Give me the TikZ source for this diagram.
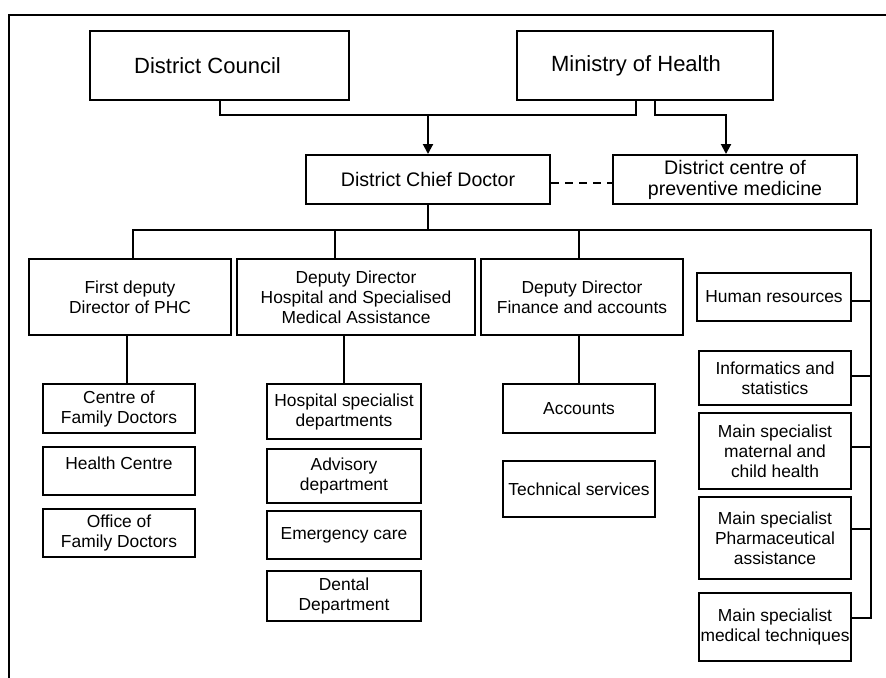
\documentclass[tikz,border=0pt]{standalone}
\usepackage{fontspec}
\setmainfont{Liberation Sans}
\usetikzlibrary{positioning,arrows.meta}
\tikzset{
  unit/.style={draw,line width=1pt,inner sep=1pt,align=center,
    font=\fontsize{8.7}{10}\selectfont},
  mid unit/.style={unit,font=\fontsize{9.8}{10.5}\selectfont},
  top unit/.style={unit,font=\fontsize{11}{13}\selectfont},
  link/.style={line width=1pt},
  down/.style={link,-{Triangle[length=5pt,width=5pt]}}
}

\begin{document}
\begin{tikzpicture}[x=0.5pt,y=-0.5pt]
  \useasboundingbox (0,0) rectangle (886,677);
  \draw[link] (9,690) |- (900,15);
  % top level
  \node (council) [top unit,minimum width=129.5pt,minimum height=34.5pt] at (219.5,65.5) {District Council\hspace{12pt}};
  \node (ministry) [top unit,minimum width=128pt,minimum height=34.5pt] at (645,65.5) {Ministry of Health\hspace{9pt}};
  \node (chief) [mid unit,minimum width=122pt,minimum height=24.5pt] at (428,179.5) {District Chief Doctor};
  \node (prev) [mid unit,minimum width=122pt,minimum height=24.5pt] at (735,179.5) {District centre of\\preventive medicine};
  \coordinate (join) at (0,115);
  \draw[link] (council.south) |- (join -| 636,0) -- ([xshift=-4.5pt]ministry.south);
  \draw[down] (chief.north |- join) -- (chief.north);
  \draw[down] ([xshift=5pt]ministry.south) |- ([xshift=-4.5pt]prev.north |- join) -- ([xshift=-4.5pt]prev.north);
  \draw[link,dash pattern=on 4pt off 3pt] ([yshift=-1.75pt]chief.east) -- ([yshift=-1.75pt]prev.west);
  % directors
  \node (phc) [unit,minimum width=101pt,minimum height=38pt] at (130,297) {First deputy\\Director of PHC};
  \node (hosp) [unit,minimum width=119pt,minimum height=38pt] at (356,297) {Deputy Director\\Hospital and Specialised\\Medical Assistance};
  \node (fin) [unit,minimum width=101pt,minimum height=38pt] at (582,297) {Deputy Director\\Finance and accounts};
  \node (hr) [unit,minimum width=77pt,minimum height=24pt] at (774,297) {Human resources};
  \node (info) [unit,minimum width=76pt,minimum height=27pt] at (775,378) {Informatics and\\statistics};
  \node (mch) [unit,minimum width=76pt,minimum height=38pt] at (775,451) {Main specialist\\maternal and\\child health};
  \node (pharm) [unit,minimum width=76pt,minimum height=41pt] at (775,538) {Main specialist\\Pharmaceutical\\assistance};
  \node (medtech) [unit,minimum width=76pt,minimum height=34pt] at (775,627) {Main specialist\\medical techniques};
  \coordinate (bus) at (871,230);
  \draw[link] (chief.south) -- (chief.south |- bus);
  \draw[link] ([xshift=1.5pt]phc.north) |- (bus) |- ([yshift=4.5pt]medtech.east);
  \draw[link] ([xshift=-10.5pt]hosp.north) -- ++(0,-29);
  \draw[link] ([xshift=-1.5pt]fin.north) -- ++(0,-29);
  \foreach \b/\s in {hr/-2,info/1,mch/2,pharm/4.5}
    \draw[link] ([yshift=\s pt]\b.east) -- ++(20,0);
  % first deputy
  \node (fam) [unit,minimum width=76pt,minimum height=24.5pt] at (119,408.5) {Centre of\\Family Doctors};
  \node (hcentre) [unit,minimum width=76pt,minimum height=24pt,text depth=8pt] at (119,471) {Health Centre};
  \node (office) [unit,minimum width=76pt,minimum height=24pt] at (119,533) {Office of\\Family Doctors};
  \draw[link] ([xshift=4pt]fam.north) -- ([xshift=4pt]fam.north |- phc.south);
  % hospital
  \node (hspec) [unit,minimum width=77pt,minimum height=27.5pt] at (344,411.5) {Hospital specialist\\departments};
  \node (adv) [unit,minimum width=77pt,minimum height=27pt] at (344,476) {Advisory\\department};
  \node (emerg) [unit,minimum width=77pt,minimum height=24pt] at (344,535) {Emergency care};
  \node (dental) [unit,minimum width=77pt,minimum height=25pt] at (344,596) {Dental\\Department};
  \draw[link] (hspec.north) -- (hspec.north |- hosp.south);
  % finance
  \node (acc) [unit,minimum width=76pt,minimum height=24.5pt] at (579,408.5) {Accounts};
  \node (tech) [unit,minimum width=76pt,minimum height=28pt] at (579,489) {Technical services};
  \draw[link] (acc.north) -- (acc.north |- fin.south);
\end{tikzpicture}
\end{document}
